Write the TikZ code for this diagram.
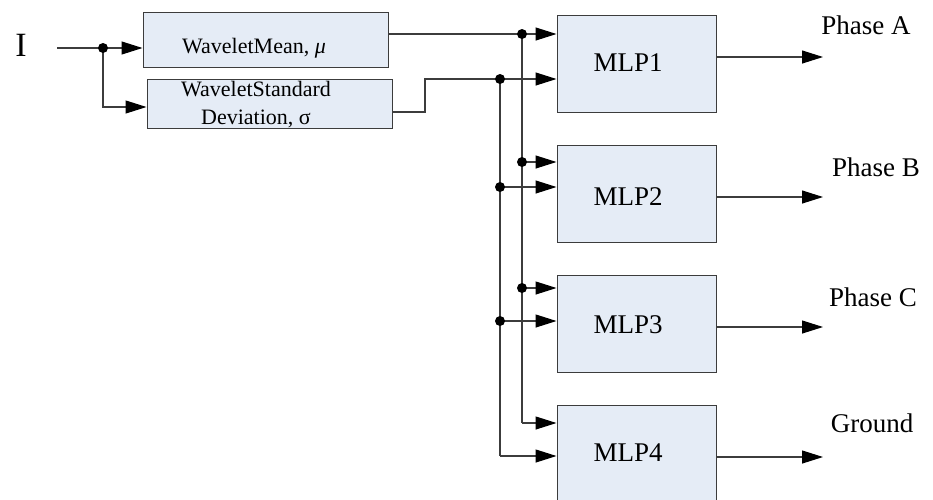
\documentclass[tikz,border=0pt]{standalone}
\usepackage{fontspec}
\setmainfont{Liberation Serif}
\usetikzlibrary{arrows.meta}
\definecolor{boxfill}{HTML}{E5ECF6}
\definecolor{wire}{HTML}{3C3C3C}
\tikzset{
  blk/.style={draw=wire, line width=1pt, fill=boxfill, inner sep=0pt},
  wireline/.style={draw=wire, line width=1.1pt},
  feed/.style={wireline, -{Triangle[length=21pt,width=13pt,black]}},
  big/.style={font=\fontsize{27}{32}\selectfont},
  small/.style={font=\fontsize{22}{28}\selectfont, align=center},
}
\newcommand{\junct}[1]{\fill[black] (#1) circle (5pt);}
\begin{document}
\begin{tikzpicture}[x=1pt,y=-1pt]
\clip (0,0) rectangle (933,499);
\fill[white] (0,0) rectangle (933,499);

% feature extraction blocks
\node[blk, minimum width=245pt, minimum height=55pt] (mean) at (265.5,39.5) {};
\node[blk, minimum width=245pt, minimum height=49pt] (std) at (269.5,103.5) {};
\node[small] (meantxt) at (254,48) {WaveletMean, \textit{μ}};
\node[small] (stdtxt) at (256,105) {WaveletStandard\\Deviation, σ};

% classifier blocks
\foreach \n/\y in {1/63.5, 2/193.5, 3/323.5} {
  \node[blk, minimum width=159pt, minimum height=97pt] (mlp\n) at (636.5,\y) {};
}
\node[blk, minimum width=159pt, minimum height=100pt] (mlp4) at (636.5,455) {};
\node[big] (t1) at (628,63) {MLP1};
\node[big] (t2) at (628,197) {MLP2};
\node[big] (t3) at (628,325) {MLP3};
\node[big] (t4) at (628,453) {MLP4};

% input
\node[font=\fontsize{34}{40}\selectfont] (inlabel) at (21,45) {I};
\coordinate (in) at (57,48);
\coordinate (j0) at (103,48);
\coordinate (j0b) at (103,107);
\draw[feed] (in) -- (j0 -| mean.west);
\draw[feed] (j0) -- (j0b) -- (j0b -| std.west);
\junct{j0}

% mean bus
\coordinate (ma) at (388,34);
\coordinate (busA) at (522,34);
\coordinate (busAend) at (522,423);
\draw[feed] (ma) -- (busA -| mlp1.west);
\draw[wireline] (busA) -- (busAend);
\draw[feed] (busAend) -- (busAend -| mlp4.west);
\coordinate (a2) at (522,162);
\coordinate (a3) at (522,288);
\draw[feed] (a2) -- (a2 -| mlp2.west);
\draw[feed] (a3) -- (a3 -| mlp3.west);
\junct{busA}\junct{a2}\junct{a3}

% deviation bus
\coordinate (sa) at (392,112);
\coordinate (sb) at (425,112);
\coordinate (sc) at (425,79);
\coordinate (busB) at (500,79);
\coordinate (busBend) at (500,456);
\draw[feed] (sa) -- (sb) -- (sc) -- (sc -| mlp1.west);
\draw[wireline] (busB) -- (busBend);
\draw[feed] (busBend) -- (busBend -| mlp4.west);
\coordinate (b2) at (500,187);
\coordinate (b3) at (500,321);
\draw[feed] (b2) -- (b2 -| mlp2.west);
\draw[feed] (b3) -- (b3 -| mlp3.west);
\junct{busB}\junct{b2}\junct{b3}

% outputs
\coordinate (o1) at (823,57);
\coordinate (o2) at (823,197);
\coordinate (o3) at (823,327);
\coordinate (o4) at (823,457);
\draw[feed] (o1 -| mlp1.east) -- (o1);
\draw[feed] (o2 -| mlp2.east) -- (o2);
\draw[feed] (o3 -| mlp3.east) -- (o3);
\draw[feed] (o4 -| mlp4.east) -- (o4);
\node[big] (pa) at (866,25) {Phase A};
\node[big] (pb) at (876,167) {Phase B};
\node[big] (pc) at (873,297) {Phase C};
\node[big] (gd) at (872,423) {Ground};
\end{tikzpicture}
\end{document}
